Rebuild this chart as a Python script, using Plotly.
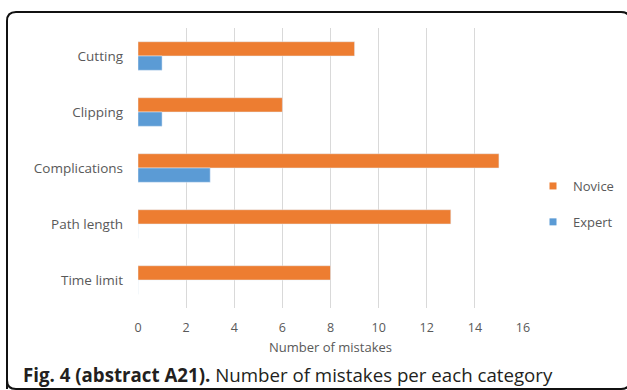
import plotly.graph_objects as go

categories = ["Cutting", "Clipping", "Complications", "Path length", "Time limit"]
novice = [9, 6, 15, 13, 8]
expert = [1, 1, 3, 0, 0]
x_ticks = [0, 2, 4, 6, 8, 10, 12, 14, 16]

ORANGE = "#ED7D31"
BLUE = "#5B9BD5"
GREY = "#595959"
FONT = "Open Sans"

W, H = 627, 390
L, R, T, B = 138, 104, 28, 82
pw, ph = W - L - R, H - T - B


def px_x(p):
    return (p - L) / pw


def px_y(p):
    return (H - B - p) / ph


fig = go.Figure()
fig.add_trace(go.Bar(y=categories, x=novice, name="Novice", orientation="h",
                     marker_color=ORANGE, showlegend=False))
fig.add_trace(go.Bar(y=categories, x=expert, name="Expert", orientation="h",
                     marker_color=BLUE, showlegend=False))

# small square legend keys
for name, color, grp in [("Novice", ORANGE, "n"), ("Expert", BLUE, "e")]:
    fig.add_trace(go.Scatter(x=[None], y=[None], mode="markers", name=name,
                             legendgroup=grp,
                             marker=dict(symbol="square", size=7, color=color)))

# rounded frame around the whole figure
x0, x1, y0, y1, r = 7, 630, 12, 389, 9
frame = (
    f"M {px_x(x0)},{px_y(y1)} L {px_x(x0)},{px_y(y0 + r)} "
    f"Q {px_x(x0)},{px_y(y0)} {px_x(x0 + r)},{px_y(y0)} "
    f"L {px_x(x1 - r)},{px_y(y0)} "
    f"Q {px_x(x1)},{px_y(y0)} {px_x(x1)},{px_y(y0 + r)} "
    f"L {px_x(x1)},{px_y(y1 - r)} "
    f"Q {px_x(x1)},{px_y(y1)} {px_x(x1 - r)},{px_y(y1)} "
    f"L {px_x(x0 + r)},{px_y(y1)} "
    f"Q {px_x(x0)},{px_y(y1)} {px_x(x0)},{px_y(y1 - r)} Z"
)
fig.add_shape(type="path", path=frame, xref="paper", yref="paper",
              line=dict(color="#111111", width=2), layer="above")

fig.add_annotation(
    text="<b>Fig. 4 (abstract A21).</b> Number of mistakes per each category",
    xref="paper", yref="paper", x=px_x(21), y=px_y(374),
    xanchor="left", yanchor="middle", showarrow=False,
    font=dict(family=FONT, size=18.7, color="#231F20"),
)

fig.update_layout(
    width=W, height=H,
    margin=dict(l=L, r=R, t=T, b=B, autoexpand=False),
    paper_bgcolor="white", plot_bgcolor="white",
    barmode="group", bargap=0.49, bargroupgap=0,
    font=dict(family=FONT, color=GREY, size=12),
    showlegend=True,
    legend=dict(x=px_x(533), y=px_y(171), xanchor="left", yanchor="top",
                traceorder="grouped", tracegroupgap=16,
                font=dict(family=FONT, size=13, color=GREY),
                itemwidth=30, bgcolor="rgba(0,0,0,0)"),
    xaxis=dict(range=[0, 16], tickvals=x_ticks, showgrid=True,
               gridcolor="#D9D9D9", gridwidth=1, zeroline=False,
               showline=False, ticks="", ticklabelstandoff=10,
               tickfont=dict(family=FONT, size=12.5, color=GREY),
               title=dict(text="Number of mistakes", standoff=8,
                          font=dict(family=FONT, size=13, color=GREY))),
    yaxis=dict(categoryorder="array", categoryarray=categories,
               autorange="reversed", showgrid=False, zeroline=False,
               showline=False, ticks="", ticklabelstandoff=14,
               tickfont=dict(family=FONT, size=13.5, color=GREY)),
)

fig.write_html("out.html")
